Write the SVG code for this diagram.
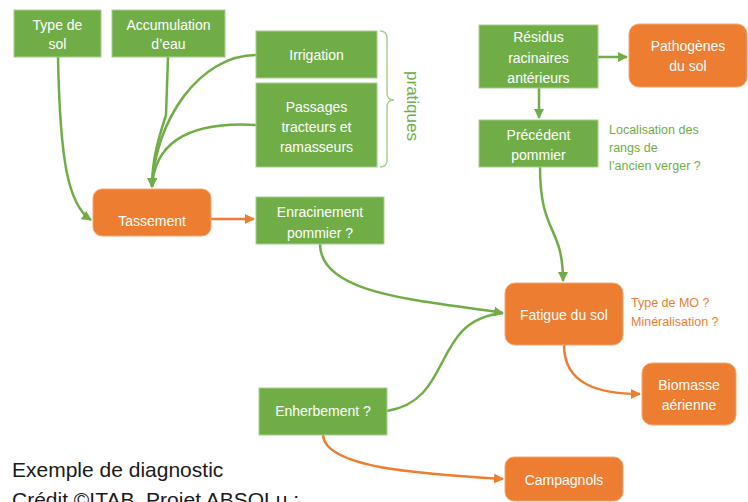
<svg xmlns="http://www.w3.org/2000/svg" width="748" height="502" viewBox="0 0 748 502">
<defs>
<style>
.g rect{fill:#70AD47;stroke:#a8cf8e;stroke-width:1}
.o rect{fill:#ED7D31;stroke:#f3a772;stroke-width:1}
text{font-family:"Liberation Sans",Arial,sans-serif}
.n text{fill:#fff;font-size:14px;text-anchor:middle}
.cg{fill:none;stroke:#70AD47;stroke-width:2.5}
.co{fill:none;stroke:#ED7D31;stroke-width:2.5}
</style>
<marker id="ag" viewBox="0 0 10 10" refX="9" refY="5" markerWidth="4" markerHeight="4" orient="auto" markerUnits="strokeWidth"><path d="M0,0 L10,5 L0,10 z" fill="#70AD47"/></marker>
<marker id="ao" viewBox="0 0 10 10" refX="9" refY="5" markerWidth="4" markerHeight="4" orient="auto" markerUnits="strokeWidth"><path d="M0,0 L10,5 L0,10 z" fill="#ED7D31"/></marker>
</defs>
<rect width="748" height="502" fill="#fff"/>

<g id="connectors">
<path class="cg" d="M58,57 C60,160 68,205 91,220" marker-end="url(#ag)"/>
<path class="cg" d="M168,57 L166,115 C158,140 152,160 152,187" marker-end="url(#ag)"/>
<path class="cg" d="M256,55 C200,55 155,120 152,187" marker-end="url(#ag)"/>
<path class="cg" d="M256,125 C200,122 155,135 152,187"/>
<path class="co" d="M211,219 L254,219" marker-end="url(#ao)"/>
<path class="cg" d="M320,244 C320,295 420,300 503,313" marker-end="url(#ag)"/>
<path class="cg" d="M387,411 C455,400 430,320 503,313"/>
<path class="cg" d="M540,167 C540,235 563,225 563,281" marker-end="url(#ag)"/>
<path class="cg" d="M539,88 L539,118" marker-end="url(#ag)"/>
<path class="cg" d="M598,57 L627,57" marker-end="url(#ag)"/>
<path class="co" d="M564,345 C564,385 600,394 640,394" marker-end="url(#ao)"/>
<path class="co" d="M323,435 C325,468 420,474 503,479" marker-end="url(#ao)"/>
<path d="M380,31 Q387,31 387,38 L387,93 Q387,100 394,100 Q387,100 387,107 L387,160 Q387,167 380,167" fill="none" stroke="#a9d18e" stroke-width="1.5"/>
</g>

<g id="type-sol" class="n g"><rect x="14" y="10" width="87" height="47"/><text x="57.5" y="30">Type de</text><text x="57.5" y="49">sol</text></g>
<g id="accumulation" class="n g"><rect x="112" y="10" width="113" height="47"/><text x="168.5" y="30">Accumulation</text><text x="168.5" y="49">d’eau</text></g>
<g id="irrigation" class="n g"><rect x="256" y="31" width="121" height="47"/><text x="316.5" y="60">Irrigation</text></g>
<g id="passages" class="n g"><rect x="256" y="83" width="121" height="84"/><text x="316.5" y="112">Passages</text><text x="316.5" y="132">tracteurs et</text><text x="316.5" y="152">ramasseurs</text></g>
<g id="pratiques"><text transform="translate(407,106) rotate(90)" text-anchor="middle" font-size="17" fill="#70AD47">pratiques</text></g>
<g id="tassement" class="n o"><rect x="93" y="189" width="118" height="47" rx="9"/><text x="152" y="226">Tassement</text></g>
<g id="enracinement" class="n g"><rect x="256" y="197" width="128" height="47"/><text x="320" y="217">Enracinement</text><text x="320" y="238">pommier ?</text></g>
<g id="residus" class="n g"><rect x="479" y="25" width="119" height="63"/><text x="538.5" y="42">Résidus</text><text x="538.5" y="63">racinaires</text><text x="538.5" y="83">antérieurs</text></g>
<g id="pathogenes" class="n o"><rect x="629" y="24" width="118" height="63" rx="10"/><text x="688" y="51">Pathogènes</text><text x="688" y="71">du sol</text></g>
<g id="precedent" class="n g"><rect x="479" y="120" width="119" height="47"/><text x="538.5" y="140">Précédent</text><text x="538.5" y="160">pommier</text></g>
<g id="localisation" fill="#70AD47" font-size="12.5"><text x="609" y="134">Localisation des</text><text x="609" y="152">rangs de</text><text x="609" y="170">l’ancien verger ?</text></g>
<g id="fatigue" class="n o"><rect x="505" y="283" width="118" height="62" rx="10"/><text x="564" y="320">Fatigue du sol</text></g>
<g id="mo" fill="#ED7D31" font-size="12.5"><text x="631" y="307">Type de MO ?</text><text x="631" y="326">Minéralisation ?</text></g>
<g id="biomasse" class="n o"><rect x="642" y="363" width="94" height="62" rx="10"/><text x="689" y="390">Biomasse</text><text x="689" y="410">aérienne</text></g>
<g id="enherbement" class="n g"><rect x="259" y="388" width="128" height="47"/><text x="323" y="416">Enherbement ?</text></g>
<g id="campagnols" class="n o"><rect x="505" y="457" width="118" height="44" rx="9"/><text x="564" y="485">Campagnols</text></g>
<g id="caption" fill="#1a1a1a" font-size="21"><text x="12" y="477">Exemple de diagnostic</text><text x="12" y="507">Crédit ©ITAB, Projet ABSOLu :</text></g>
</svg>
